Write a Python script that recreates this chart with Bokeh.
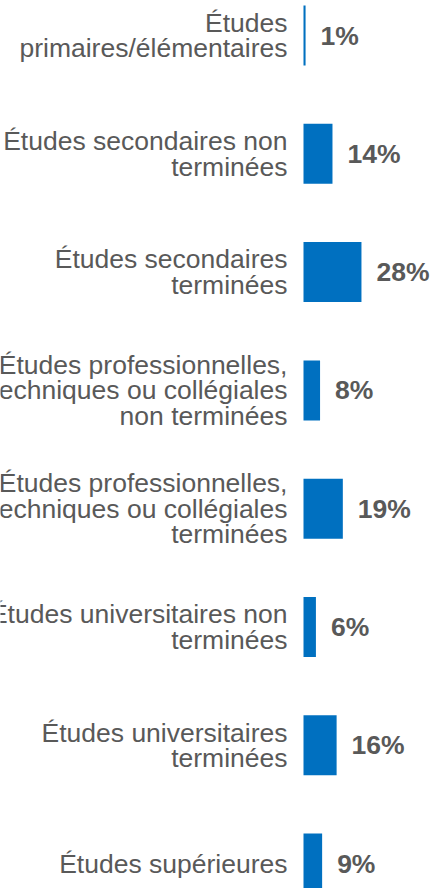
from bokeh.plotting import figure
from bokeh.models import ColumnDataSource, Range1d
from bokeh.core.properties import value
from bokeh.embed import file_html
from bokeh.resources import INLINE

categories = [
    "Études\nprimaires/élémentaires",
    "Études secondaires non\nterminées",
    "Études secondaires\nterminées",
    "Études professionnelles,\ntechniques ou collégiales\nnon terminées",
    "Études professionnelles,\ntechniques ou collégiales\nterminées",
    "Études universitaires non\nterminées",
    "Études universitaires\nterminées",
    "Études supérieures",
]
values = [1, 14, 28, 8, 19, 6, 16, 9]
value_labels = [f"{v}%" for v in values]

ypos = list(range(len(categories)))
src = ColumnDataSource(dict(y=ypos, v=values, cat=categories, lab=value_labels,
                            zero=[0] * len(values)))

W, H = 436, 888
px_per_unit = 2.07
x0 = 303
row = 118.3
top = 35

p = figure(width=W, height=H, output_backend="svg", toolbar_location=None,
           x_range=Range1d(-x0 / px_per_unit, (W - x0) / px_per_unit),
           y_range=Range1d((H - top) / row, -top / row),
           min_border=0, min_border_left=0, min_border_right=0,
           min_border_top=0, min_border_bottom=0)
p.axis.visible = False
p.grid.visible = False
p.outline_line_color = None
p.background_fill_color = "white"
p.border_fill_color = "white"

p.hbar(y="y", left="zero", right="v", height=60 / row, source=src,
       fill_color="#0070C0", line_color=None)

p.text(x="v", y="y", text="lab", source=src, x_offset=15,
       text_align="left", text_baseline="middle",
       text_font=value("Liberation Sans"), text_font_style="bold",
       text_font_size="26.5px", text_color="#595959")

p.text(x="zero", y="y", text="cat", source=src, x_offset=-16,
       text_align="right", text_baseline="middle",
       text_font=value("Liberation Sans"), text_font_size="26.5px",
       text_line_height=0.85, text_color="#595959")

open("out.html", "w").write(file_html(p, INLINE))
